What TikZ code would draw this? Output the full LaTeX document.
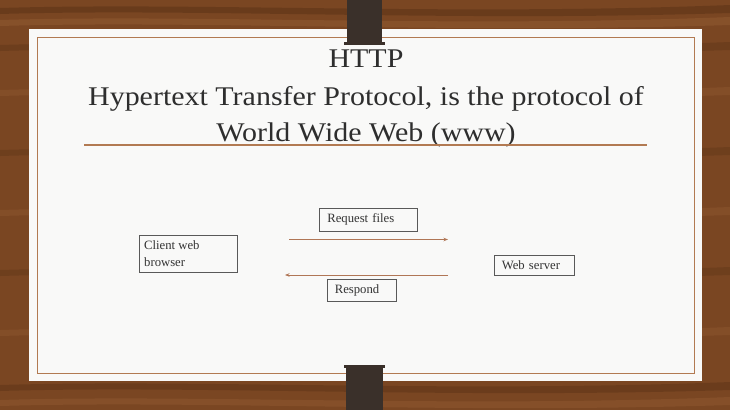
\documentclass[tikz,border=0pt]{standalone}
\usepackage{fontspec}
\setmainfont{Liberation Serif}
\newfontfamily\titlefont[FakeStretch=1.11]{Liberation Serif}
\usetikzlibrary{arrows.meta}
\definecolor{wood}{HTML}{7A4622}
\definecolor{wooddark}{HTML}{5A3216}
\definecolor{woodlight}{HTML}{9A6238}
\definecolor{card}{HTML}{F9F9F8}
\definecolor{trim}{HTML}{B27A52}
\definecolor{clipcol}{HTML}{3A302A}
\definecolor{arr}{HTML}{B07656}
\tikzset{
  lbl/.style={draw=black!65, line width=0.6pt, font=\fontsize{12.7}{17}\selectfont, text=black!80, align=left, inner sep=0pt, anchor=north west},
  conn/.style={draw=arr, line width=1pt, -{Stealth[length=4.5pt,width=3.5pt]}},
  ttl/.style={font=\titlefont\fontsize{27}{37}\selectfont, text=black!82, anchor=base},
}
\begin{document}
\begin{tikzpicture}[x=1pt,y=-1pt]
\useasboundingbox (0,0) rectangle (730,410);
% wood background
\fill[wood] (0,0) rectangle (730,410);
\foreach \y/\c/\o in {8/wooddark/0.5, 20/woodlight/0.4, 45/wooddark/0.4, 90/woodlight/0.3, 150/wooddark/0.35, 210/woodlight/0.3, 270/wooddark/0.35, 330/woodlight/0.3, 385/wooddark/0.45, 400/woodlight/0.35}{
  \fill[\c, opacity=\o] (0,\y) .. controls (200,\y-6) and (450,\y+8) .. (730,\y-3) -- (730,\y+5) .. controls (450,\y+14) and (200,\y) .. (0,\y+6) -- cycle;
}
% card
\fill[card] (29,29) rectangle (702,381);
\draw[trim, line width=1pt] (37,37) rectangle (694,373);
% clips
\fill[clipcol] (347,0) rectangle (382,43);
\fill[clipcol] (344,42) rectangle (385,44.5);
\fill[clipcol] (344,365) rectangle (385,367.5);
\fill[clipcol] (346,366) rectangle (383,410);
% title
\node[ttl] (t1) at (366,67) {HTTP};
\node[ttl] (t2) at (366,105) {Hypertext Transfer Protocol, is the protocol of};
\node[ttl] (t3) at (366,141.5) {World Wide Web (www)};
\draw[trim, line width=1.2pt] (84,145) -- (647,145);
% boxes
\node[lbl, minimum width=98pt, minimum height=37pt] (client) at (139,235) {};
\node[anchor=base west, font=\fontsize{12.7}{17}\selectfont, text=black!80, align=left, inner sep=0pt] (clientt) at (144,266) {Client web\\browser};
\node[lbl, minimum width=98pt, minimum height=23pt, text width=92pt] (req) at (319,208) {\hspace*{5pt}Request files};
\node[lbl, minimum width=80pt, minimum height=20pt, text width=75pt] (server) at (494,255) {\hspace*{5pt}Web server};
\node[lbl, minimum width=69pt, minimum height=22pt, text width=64pt] (resp) at (327,279) {\hspace*{5pt}Respond};
% arrows
\coordinate (a1) at (289,239.5);
\coordinate (a2) at (448,239.5);
\coordinate (b1) at (448,275);
\coordinate (b2) at (285,275);
\draw[conn] (a1) -- (a2);
\draw[conn] (b1) -- (b2);
\end{tikzpicture}
\end{document}
